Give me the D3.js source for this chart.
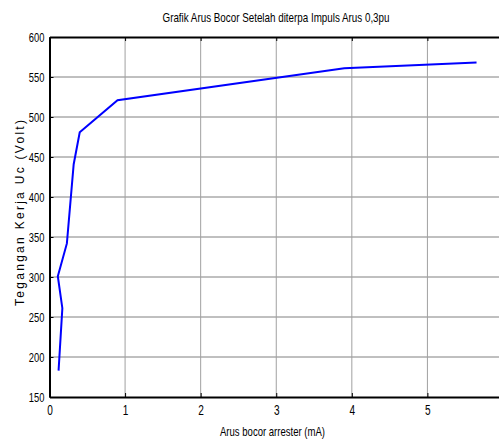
<!DOCTYPE html>
<html>
<head>
<meta charset="utf-8">
<script src="https://cdn.jsdelivr.net/npm/d3@7"></script>
<style>
  body { margin: 0; background: #fff; }
  text { font-family: "Liberation Sans", Arial, sans-serif; }
</style>
</head>
<body>
<div id="chart"></div>
<script>
// data
const arus = [0.12, 0.17, 0.11, 0.23, 0.32, 0.40, 0.90, 3.90, 5.65];
const tegangan = [183, 261, 301, 342, 441, 481, 521, 561, 568];
const xTicks = [0, 1, 2, 3, 4, 5];
const yTicks = [150, 200, 250, 300, 350, 400, 450, 500, 550, 600];

const width = 499, height = 439;
const margin = {top: 37, right: -4, bottom: 42, left: 49.5};

const svg = d3.select('#chart')
  .append('svg')
    .attr('width', width)
    .attr('height', height);

const x = d3.scaleLinear()
  .domain([0, 6])
  .range([margin.left, width - margin.right]);

const y = d3.scaleLinear()
  .domain([150, 600])
  .range([height - margin.bottom, margin.top]);

// squeeze text so it looks like the condensed matlab font
function narrow(sel, k) {
  sel.each(function() {
    const w = this.getComputedTextLength();
    d3.select(this)
      .attr('textLength', w * k)
      .attr('lengthAdjust', 'spacingAndGlyphs');
  });
}

// grid
svg.append('g')
  .selectAll('line')
  .data(yTicks.slice(1, -1))
  .enter()
  .append('line')
    .attr('x1', x(0))
    .attr('x2', x(6))
    .attr('y1', d => y(d))
    .attr('y2', d => y(d))
    .attr('stroke', '#808080')
    .attr('stroke-width', 1);

svg.append('g')
  .selectAll('line')
  .data(xTicks.slice(1))
  .enter()
  .append('line')
    .attr('x1', d => x(d))
    .attr('x2', d => x(d))
    .attr('y1', y(150))
    .attr('y2', y(600))
    .attr('stroke', '#a0a0a0')
    .attr('stroke-width', 1);

// axes (ticks point inward like matlab)
svg.append('g')
  .attr('transform', `translate(0,${y(150)})`)
  .call(d3.axisBottom(x).tickValues(xTicks).tickFormat(d3.format('d')).tickSize(-4).tickPadding(8).tickSizeOuter(0))
  .call(g => g.select('.domain').attr('stroke-width', 2))
  .call(g => g.selectAll('text').attr('font-size', 14).attr('fill', '#000').call(narrow, 0.72));

svg.append('g')
  .attr('transform', `translate(0,${y(600)})`)
  .call(d3.axisTop(x).tickValues(xTicks).tickSize(-4).tickFormat('').tickSizeOuter(0))
  .call(g => g.select('.domain').attr('stroke-width', 2));

svg.append('g')
  .attr('transform', `translate(${x(0)},0)`)
  .call(d3.axisLeft(y).tickValues(yTicks).tickSize(-4).tickPadding(5).tickSizeOuter(0))
  .call(g => g.select('.domain').attr('stroke-width', 2))
  .call(g => g.selectAll('text').attr('font-size', 13).attr('fill', '#000').call(narrow, 0.72));

// the curve
const points = arus.map((v, i) => [v, tegangan[i]]);
svg.append('path')
  .datum(points)
  .attr('d', d3.line().x(d => x(d[0])).y(d => y(d[1])))
  .attr('fill', 'none')
  .attr('stroke', '#0000ff')
  .attr('stroke-width', 2);

// labels
svg.append('text')
  .attr('x', 276)
  .attr('y', 22)
  .attr('text-anchor', 'middle')
  .attr('font-size', 13)
  .attr('textLength', 227)
  .attr('lengthAdjust', 'spacingAndGlyphs')
  .text('Grafik Arus Bocor Setelah diterpa Impuls Arus 0,3pu');

svg.append('text')
  .attr('x', 272.5)
  .attr('y', 436)
  .attr('text-anchor', 'middle')
  .attr('font-size', 13)
  .attr('textLength', 105)
  .attr('lengthAdjust', 'spacingAndGlyphs')
  .text('Arus bocor arrester (mA)');

svg.append('text')
  .attr('transform', 'translate(24,213) rotate(-90)')
  .attr('text-anchor', 'middle')
  .attr('font-size', 12)
  .attr('textLength', 186)
  .attr('lengthAdjust', 'spacing')
  .text('Tegangan Kerja Uc (Volt)');
</script>
</body>
</html>
